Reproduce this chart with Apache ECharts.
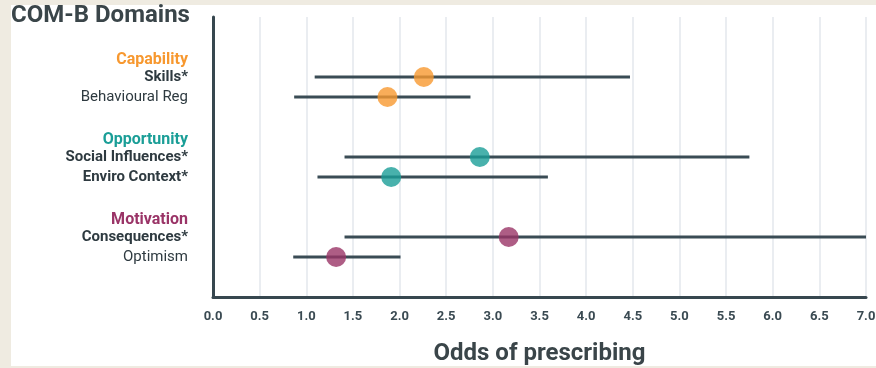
<!DOCTYPE html>
<html>
<head>
<meta charset="utf-8">
<style>html,body{margin:0;padding:0;background:#efebe1;}#c{width:876px;height:368px;}</style>
<script src="https://cdn.jsdelivr.net/npm/echarts@6/dist/echarts.min.js"></script>
</head>
<body>
<div id="c"></div>
<script>
// Rows (top to bottom); spacer rows keep gaps between domains
const rowKeys   = ['s0','s1','Capability','Skills*','Behavioural Reg','s2','Opportunity','Social Influences*','Enviro Context*','s3','Motivation','Consequences*','Optimism','s4','s5'];
const rowStyles = ['', '', 'cap', 'b', 'n', '', 'opp', 'b', 'b', '', 'mot', 'b', 'n', '', ''];
// Estimates (odds ratio with 95% CI)
const items   = ['Skills*','Behavioural Reg','Social Influences*','Enviro Context*','Consequences*','Optimism'];
const groups  = ['cap','cap','opp','opp','mot','mot'];
const odds    = [2.26, 1.87, 2.86, 1.91, 3.17, 1.32];
const lower   = [1.09, 0.87, 1.41, 1.12, 1.41, 0.86];
const upper   = [4.47, 2.76, 5.75, 3.59, 7.00, 2.01];
const xTicks  = ['0.0','0.5','1.0','1.5','2.0','2.5','3.0','3.5','4.0','4.5','5.0','5.5','6.0','6.5','7.0'];

const colors = {cap:'#f7982f', opp:'#1a9e97', mot:'#9a3467'};
const dark = '#37474f';

const ciData = items.map((n,i)=>[lower[i], upper[i], rowKeys.indexOf(n)]);
const ptData = items.map((n,i)=>({value:[odds[i], rowKeys.indexOf(n)], itemStyle:{color:colors[groups[i]]}}));

const headStyle = (c)=>({color:c, fontSize:16, fontWeight:'bold', fontFamily:'Roboto, sans-serif', padding:[6,0,0,0]});

const chart = echarts.init(document.getElementById('c'));
chart.setOption({
  backgroundColor:'#efebe1',
  animation:false,
  graphic:[
    {type:'rect', shape:{x:11,y:5,width:865,height:361}, style:{fill:'#ffffff'}, z:-10},
    {type:'text', left:11, top:4, style:{text:'COM-B Domains', font:'bold 24px Roboto, sans-serif', fill:'#3a4549'}}
  ],
  grid:{left:213, right:10, top:17, bottom:71, outerBoundsMode:'none', containLabel:false},
  xAxis:{
    type:'value', min:0, max:7, interval:0.5,
    axisLine:{show:true, onZero:false, lineStyle:{color:dark, width:3}},
    axisTick:{show:false},
    splitLine:{show:true, lineStyle:{color:'#e3e7ec', width:1.5}},
    axisLabel:{margin:13, color:'#3a4a52', fontSize:13, fontWeight:'bold', fontFamily:'Roboto, sans-serif',
      formatter:(v)=>xTicks[Math.round(v*2)]},
    name:'Odds of prescribing', nameLocation:'middle', nameGap:45,
    nameTextStyle:{fontSize:24, fontWeight:'bold', color:'#3a4549', fontFamily:'Roboto, sans-serif'}
  },
  yAxis:{
    type:'category', data:rowKeys, inverse:true, boundaryGap:false,
    axisLine:{show:true, lineStyle:{color:dark, width:3}},
    axisTick:{show:false}, splitLine:{show:false},
    axisLabel:{margin:25, interval:0, fontFamily:'Roboto, sans-serif',
      formatter:(v,i)=>{const s=rowStyles[i]; if(!s) return ''; return '{'+s+'|'+v+'}';},
      rich:{
        cap:headStyle(colors.cap),
        opp:headStyle(colors.opp),
        mot:headStyle(colors.mot),
        b:{color:'#2e3a40', fontSize:15, fontWeight:'bold', fontFamily:'Roboto, sans-serif'},
        n:{color:'#2e3a40', fontSize:15, fontFamily:'Roboto, sans-serif'}
      }}
  },
  series:[
    {type:'custom', data:ciData, z:2,
      renderItem:(params, api)=>{
        const a = api.coord([api.value(0), api.value(2)]);
        const b = api.coord([api.value(1), api.value(2)]);
        return {type:'line', shape:{x1:a[0], y1:a[1], x2:b[0], y2:b[1]}, style:{stroke:'#3a4c55', lineWidth:3}};
      },
      encode:{x:[0,1], y:2}
    },
    {type:'scatter', data:ptData, symbolSize:20, z:3}
  ]
});
</script>
</body>
</html>
